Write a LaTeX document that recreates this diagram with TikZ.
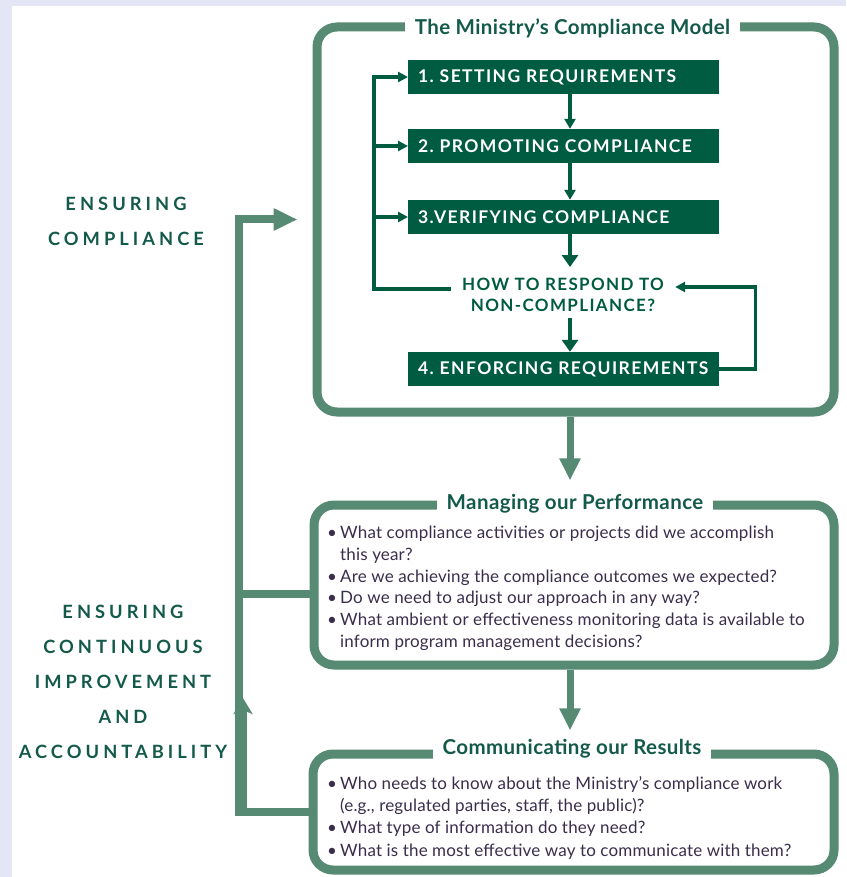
\documentclass[tikz,border=0pt]{standalone}
\usepackage{fontspec}
\setmainfont{Lato}
\newfontfamily\spaced[LetterSpace=22,Ligatures=TeX]{Lato}
\newfontfamily\boxfont[LetterSpace=8,Ligatures=TeX]{Lato}
\newfontfamily\titlefont[LetterSpace=2,Ligatures=TeX]{Lato}
\newfontfamily\bodyfont[LetterSpace=1,Ligatures=TeX]{Lato}
\usetikzlibrary{arrows.meta,calc}
\definecolor{lav}{HTML}{E4E5F5}
\definecolor{lgreen}{HTML}{568A73}
\definecolor{dgreen}{HTML}{005C40}
\definecolor{headc}{HTML}{145A4A}
\definecolor{bodyc}{HTML}{3A2E4C}
\begin{document}
\begin{tikzpicture}[x=1pt,y=-1pt,
  bigbox/.style={draw=lgreen, line width=9pt, rounded corners=20pt, inner sep=0pt},
  titlebox/.style={fill=white, text=headc, font=\titlefont\bfseries\fontsize{20.5}{22}\selectfont, inner xsep=10pt, inner ysep=1pt},
  stepbox/.style={fill=dgreen, text=white, font=\boxfont\bfseries\fontsize{17.5}{18}\selectfont\frenchspacing, text width=291pt, inner xsep=10pt, inner ysep=0pt, minimum height=34pt, align=left, anchor=west},
  qbox/.style={text=dgreen, font=\boxfont\bfseries\fontsize{17}{21}\selectfont, align=center, inner xsep=11pt, inner ysep=11pt},
  dline/.style={draw=dgreen, line width=3.5pt},
  dtip/.style={-{Triangle[length=10pt,width=10pt]}},
  darr/.style={dline, line width=3.5pt, -{Triangle[length=10pt,width=11pt]}},
  darrb/.style={dline, line width=4.5pt, -{Triangle[length=12pt,width=16pt]}},
  lline/.style={draw=lgreen, line width=8pt},
  larr/.style={draw=lgreen, line width=7pt, -{Triangle[length=22pt,width=20pt]}},
  sidelbl/.style={text=headc, font=\spaced\bfseries\fontsize{18.3}{35}\selectfont, align=center},
  bodytxt/.style={text=bodyc, font=\bodyfont\fontsize{17}{21.7}\selectfont, align=left, inner sep=0pt, anchor=north west},
]
% background
\fill[lav] (0,0) rectangle (846,877);
\fill[white] (12,6) rectangle (846,877);
\useasboundingbox (0,0) rectangle (846,877);

% big boxes
\node[bigbox, minimum width=517pt, minimum height=385pt] (model) at (575.5,219.5) {};
\node[bigbox, minimum width=520pt, minimum height=160pt] (perf) at (574,585) {};
\node[bigbox, minimum width=521pt, minimum height=116pt] (comm) at (573.5,812) {};

\node[titlebox] (t1) at (572.5,28) {The Ministry’s Compliance Model};
\node[titlebox] (t2) at (575,504) {Managing our Performance};
\node[titlebox] (t3) at (572,749) {Communicating our Results};

% steps
\node[stepbox] (b1) at (408,77) {1. SETTING REQUIREMENTS};
\node[stepbox] (b2) at (408,146) {2. PROMOTING COMPLIANCE};
\node[stepbox] (b3) at (408,217) {3.VERIFYING COMPLIANCE};
\node[qbox] (q) at (563,295) {HOW TO RESPOND TO\\NON-COMPLIANCE?};
\node[stepbox] (b4) at (408,369) {4. ENFORCING REQUIREMENTS};

\coordinate (ax) at (570,0);
\coordinate (dl) at (374,0);
\coordinate (qw) at ($(q.west)+(0,-6)$);
\coordinate (qe) at ($(q.east)+(0,-8)$);

\draw[darr] (b1.south -| ax) -- (b2.north -| ax);
\draw[darr] (b2.south -| ax) -- (b3.north -| ax);
\draw[darrb] (b3.south -| ax) -- (q.north -| ax);
\draw[darrb, shorten <=-5pt] (q.south -| ax) -- (b4.north -| ax);

\draw[dline, dtip] (qw) -| (dl |- b1.west) -- (b1.west);
\draw[dline, dtip] (dl |- b2.west) -- (b2.west);
\draw[dline, dtip] (dl |- b3.west) -- (b3.west);
\draw[dline, dtip] (b4.east) -- ++(36,0) |- (qe);

% light arrows between big boxes
\draw[larr, shorten >=13pt] (model.south -| ax) -- (t2.north -| ax);
\draw[larr, shorten >=8pt] (perf.south -| ax) -- (t3.north -| ax);

% left loop
\coordinate (mid) at (243,698);
\draw[lline, -{Triangle[length=24pt,width=21pt]}] (comm.west) -| ($(model.west)+(-74,0)$) -- ($(model.west)+(-15,0)$);
\draw[lline, -{Stealth[length=16pt,width=19pt,inset=4pt]}] (comm.west -| mid) -- (mid);
\draw[lline, line cap=rect] ($(perf.west)+(0,9)$) -- ($(perf.west)+(-71,9)$);

% side labels
\node[sidelbl] (ec) at (126,221) {ENSURING\\COMPLIANCE};
\node[sidelbl] (ei) at (123,681.5) {ENSURING\\CONTINUOUS\\IMPROVEMENT\\AND\\ACCOUNTABILITY};

% body texts
\node[bodytxt] (pt) at (327,526) {%
\makebox[13pt][l]{\textbullet}What compliance activities or projects did we accomplish\\
\hspace*{13pt}this year?\\
\makebox[13pt][l]{\textbullet}Are we achieving the compliance outcomes we expected?\\
\makebox[13pt][l]{\textbullet}Do we need to adjust our approach in any way?\\
\makebox[13pt][l]{\textbullet}What ambient or effectiveness monitoring data is available to\\
\hspace*{13pt}inform program management decisions?};
\node[bodytxt, font=\bodyfont\fontsize{17}{22.3}\selectfont] (ct) at (327,776) {%
\makebox[13pt][l]{\textbullet}Who needs to know about the Ministry’s compliance work\\
\hspace*{13pt}(e.g., regulated parties, staff, the public)?\\
\makebox[13pt][l]{\textbullet}What type of information do they need?\\
\makebox[13pt][l]{\textbullet}What is the most effective way to communicate with them?};
\end{tikzpicture}
\end{document}
